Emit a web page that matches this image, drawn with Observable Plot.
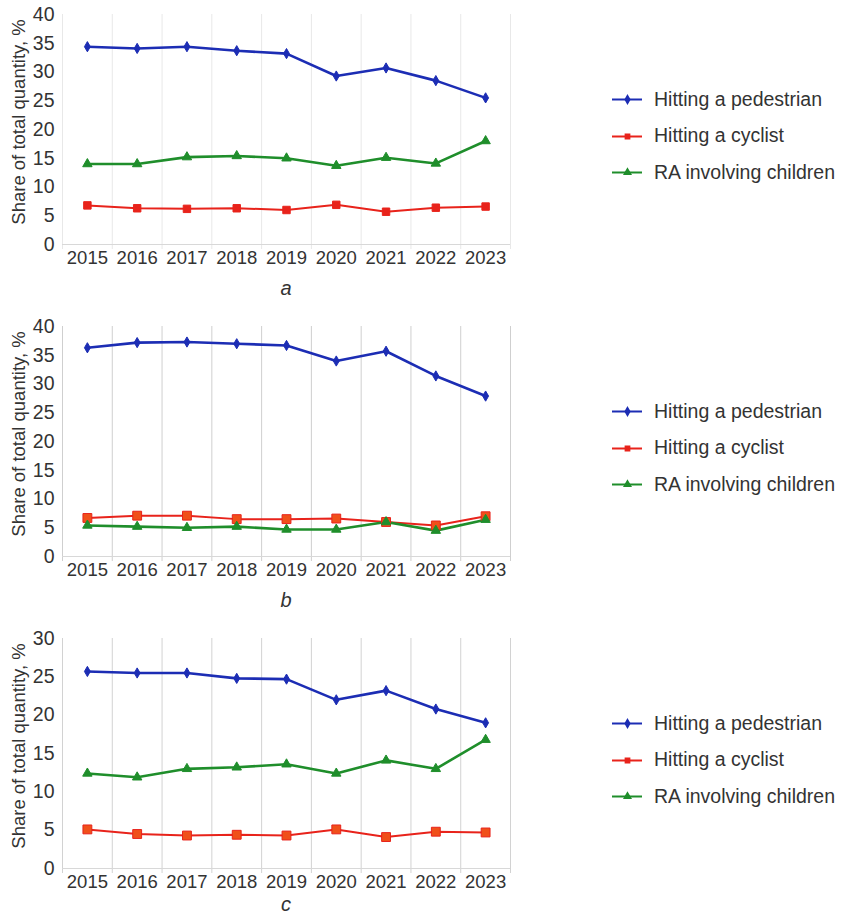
<!DOCTYPE html>
<html>
<head>
<meta charset="utf-8">
<script src="https://cdn.jsdelivr.net/npm/d3@7"></script>
<script src="https://cdn.jsdelivr.net/npm/@observablehq/plot@0.6"></script>
<style>
  html, body { margin: 0; padding: 0; background: #fff; }
  body { width: 845px; height: 919px; overflow: hidden; font-family: "Liberation Sans", Arial, sans-serif; color: #333; }
  #root { position: relative; width: 845px; height: 919px; }
  .panel { position: absolute; left: 0; }
  .letter { position: absolute; left: 276px; width: 20px; text-align: center; font-style: italic; font-size: 20px; color: #333; }
  .legend { position: absolute; left: 612px; font-size: 19.5px; color: #333; }
  .legend .item { display: flex; align-items: center; height: 36.5px; }
  .legend svg { margin-right: 12px; }
  .ylab { position: absolute; font-size: 18.5px; color: #333; transform: rotate(-90deg); transform-origin: center; white-space: nowrap; }
</style>
</head>
<body>
<div id="root"></div>
<script>
const years = [2015, 2016, 2017, 2018, 2019, 2020, 2021, 2022, 2023];
const seriesNames = ["Hitting a pedestrian", "Hitting a cyclist", "RA involving children"];

// Panel a
const aPedestrian = [34.4, 34.1, 34.4, 33.7, 33.2, 29.3, 30.7, 28.5, 25.5];
const aCyclist    = [6.8, 6.3, 6.2, 6.3, 6.0, 6.9, 5.7, 6.4, 6.6];
const aChildren   = [14.0, 14.0, 15.2, 15.4, 15.0, 13.7, 15.1, 14.1, 18.0];
// Panel b
const bPedestrian = [36.3, 37.2, 37.3, 37.0, 36.7, 34.0, 35.7, 31.4, 27.9];
const bCyclist    = [6.7, 7.1, 7.1, 6.5, 6.5, 6.6, 6.0, 5.4, 7.0];
const bChildren   = [5.4, 5.2, 5.0, 5.2, 4.7, 4.7, 6.0, 4.5, 6.4];
// Panel c
const cPedestrian = [25.7, 25.5, 25.5, 24.8, 24.7, 22.0, 23.2, 20.8, 19.0];
const cCyclist    = [5.1, 4.5, 4.3, 4.4, 4.3, 5.1, 4.1, 4.8, 4.7];
const cChildren   = [12.4, 11.9, 13.0, 13.2, 13.6, 12.4, 14.1, 13.0, 16.8];

const aTicks = [0, 5, 10, 15, 20, 25, 30, 35, 40];
const cTicks = [0, 5, 10, 15, 20, 25, 30];
const panelLetters = ["a", "b", "c"];
const yLabel = "Share of total quantity, %";

const blue = "#1c2db4", red = "#e8231b", green = "#1f8e2b";

const panels = [
  {ped: aPedestrian, cyc: aCyclist, chi: aChildren, ticks: aTicks, grid: "#e8e8e8", big: false},
  {ped: bPedestrian, cyc: bCyclist, chi: bChildren, ticks: aTicks, grid: "#cfcfcf", big: true},
  {ped: cPedestrian, cyc: cCyclist, chi: cChildren, ticks: cTicks, grid: "#d2d2d2", big: true}
];

const root = document.getElementById("root");
const tops = [0, 312, 624];
const letterTops = [277, 589, 893];

panels.forEach((p, i) => {
  const bounds = years.map(y => y - 0.5).concat([years[years.length - 1] + 0.5]);
  const rows = (vals) => years.map((y, k) => ({year: y, value: vals[k]}));
  const ped = rows(p.ped), cyc = rows(p.cyc), chi = rows(p.chi);
  const ymax = p.ticks[p.ticks.length - 1];
  const chart = Plot.plot({
    width: 560,
    height: 290,
    marginLeft: 62,
    marginRight: 50,
    marginTop: 14,
    marginBottom: 46,
    style: {fontFamily: "'Liberation Sans', Arial, sans-serif", fontSize: "18px", color: "#333", background: "transparent", overflow: "visible"},
    x: {domain: [bounds[0], bounds[bounds.length - 1]], axis: null},
    y: {domain: [0, ymax], axis: null},
    marks: [
      Plot.ruleX(bounds, {y1: 0, y2: ymax, stroke: p.grid, strokeWidth: 1}),
      Plot.ruleX(bounds, {y1: 0, y2: 0, stroke: p.grid, strokeWidth: 1, insetBottom: -5}),
      Plot.ruleY([0], {stroke: "#d8d8d8", strokeWidth: 1}),
      Plot.axisY({ticks: p.ticks, tickSize: 0, tickPadding: 8, label: null, fill: "#333", fontSize: 19.5}),
      Plot.axisX({ticks: years, tickFormat: d => String(d), tickSize: 0, tickPadding: 6, label: null, fill: "#333", fontSize: 18.5}),
      Plot.line(ped, {x: "year", y: "value", stroke: blue, strokeWidth: 2.6}),
      Plot.line(cyc, {x: "year", y: "value", stroke: red, strokeWidth: 2}),
      Plot.line(chi, {x: "year", y: "value", stroke: green, strokeWidth: 2.6}),
      Plot.dot(ped, {x: "year", y: "value", symbol: "diamond", r: 3.1, fill: blue, stroke: blue, strokeWidth: 1}),
      Plot.dot(cyc, {x: "year", y: "value", symbol: "square", r: p.big ? 5 : 4.2, fill: p.big ? "#f0501a" : red, stroke: red, strokeWidth: 1}),
      Plot.dot(chi, {x: "year", y: "value", symbol: "triangle", r: 3.5, fill: green, stroke: green, strokeWidth: 1})
    ]
  });
  chart.classList.add("panel");
  chart.style.top = tops[i] + "px";
  root.appendChild(chart);

  const yl = document.createElement("div");
  yl.className = "ylab";
  yl.textContent = yLabel;
  yl.style.width = "240px";
  yl.style.textAlign = "center";
  yl.style.left = (19 - 120) + "px";
  yl.style.top = (tops[i] + 122 - 11) + "px";
  root.appendChild(yl);

  const lt = document.createElement("div");
  lt.className = "letter";
  lt.textContent = panelLetters[i];
  lt.style.top = letterTops[i] + "px";
  root.appendChild(lt);

  const lg = document.createElement("div");
  lg.className = "legend";
  lg.style.top = (tops[i] + 81) + "px";
  const cols = [blue, red, green];
  const syms = ["diamond", "square", "triangle"];
  seriesNames.forEach((name, k) => {
    const item = document.createElement("div");
    item.className = "item";
    const sw = Plot.plot({
      width: 30, height: 12, margin: 0,
      x: {domain: [0, 1], axis: null}, y: {domain: [0, 1], axis: null},
      style: {background: "transparent"},
      marks: [
        Plot.ruleY([0.5], {stroke: cols[k], strokeWidth: 2}),
        Plot.dot([0.5], {x: d => d, y: 0.5, symbol: syms[k], r: 2.4, fill: cols[k], stroke: cols[k]})
      ]
    });
    item.appendChild(sw);
    const t = document.createElement("span");
    t.textContent = name;
    item.appendChild(t);
    lg.appendChild(item);
  });
  root.appendChild(lg);
});
</script>
</body>
</html>
